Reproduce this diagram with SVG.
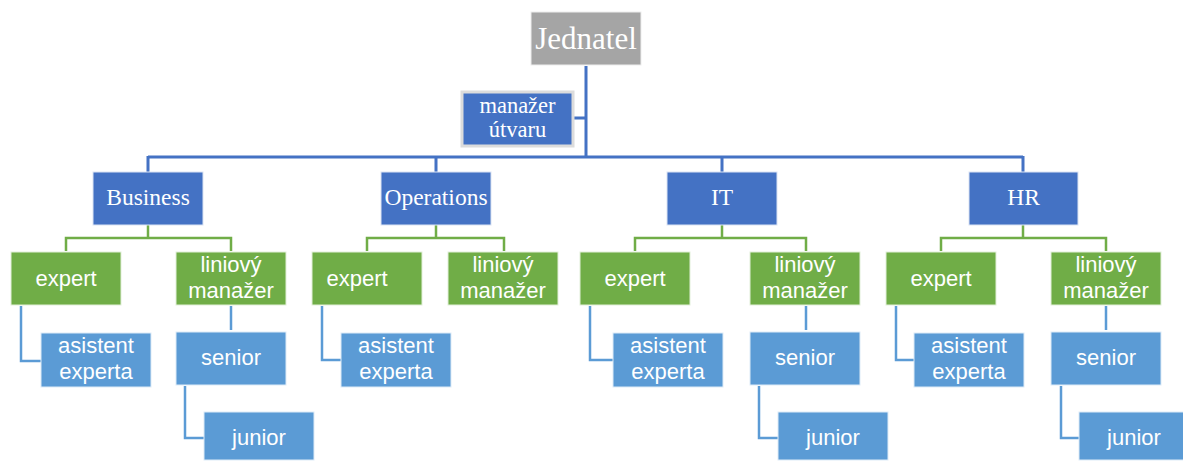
<svg xmlns="http://www.w3.org/2000/svg" width="1183" height="461" viewBox="0 0 1183 461">
<style>
.b{fill:#4472c4;stroke:#dbe4f3;stroke-width:1}
.g{fill:#70ad47;stroke:#e2efd9;stroke-width:1}
.l{fill:#5b9bd5;stroke:#deebf7;stroke-width:1}
.gr{fill:#a5a5a5;stroke:#ededed;stroke-width:1}
.ts{font-family:"Liberation Serif","Times New Roman",serif;fill:#fff;text-anchor:middle}
.tn{font-family:"Liberation Sans",Arial,sans-serif;font-size:22px;fill:#fff;text-anchor:middle}
.cb{stroke:#4472c4;stroke-width:3;fill:none}
.cg{stroke:#70ad47;stroke-width:2.5;fill:none}
.cl{stroke:#5b9bd5;stroke-width:2.5;fill:none}
</style>
<rect width="1183" height="461" fill="#fff"/>
<g id="connectors">
<path class="cb" d="M586 66V157M573 118H586M148 157H1023M148 156V172M436 156V172M722 156V172M1023 156V172"/>
<path class="cg" d="M148 225V238M66 251V238H231V251M436 225V238M367 251V238H504V251M722 225V238M635 251V238H806V251M1023 225V238M941 251V238H1106V251"/>
<path class="cl" d="M21 306V361H41M231 306V330M185 386V438H204M322 306V360H341M590 306V360H613M806 306V330M759 386V438H778M896 306V360H914M1106 306V330M1061 386V438H1079"/>
</g>
<g id="jednatel"><rect class="gr" x="531" y="12" width="110" height="53"/><text class="ts" x="586" y="49" font-size="31">Jednatel</text></g>
<g id="manazer-utvaru"><rect x="462" y="92" width="111" height="54" fill="#4472c4" stroke="#dcdcdc" stroke-width="3"/><text class="ts" x="517.5" y="113" font-size="22.5">manažer</text><text class="ts" x="517.5" y="137" font-size="22.5">útvaru</text></g>
<g id="business"><rect class="b" x="93" y="172" width="110" height="53"/><text class="ts" x="148" y="205" font-size="23.5">Business</text></g>
<g id="operations"><rect class="b" x="381" y="172" width="110" height="53"/><text class="ts" x="436" y="205" font-size="23.5">Operations</text></g>
<g id="it"><rect class="b" x="667" y="172" width="110" height="53"/><text class="ts" x="722" y="205" font-size="23.5">IT</text></g>
<g id="hr"><rect class="b" x="969" y="172" width="109" height="53"/><text class="ts" x="1023.5" y="205" font-size="23.5">HR</text></g>
<g id="business-expert"><rect class="g" x="11" y="252" width="110" height="53"/><text class="tn" x="66" y="286">expert</text></g>
<g id="business-liniovy"><rect class="g" x="176" y="252" width="110" height="53"/><text class="tn" x="231" y="272">liniový</text><text class="tn" x="231" y="298">manažer</text></g>
<g id="business-asistent"><rect class="l" x="41" y="333" width="110" height="54"/><text class="tn" x="96" y="353">asistent</text><text class="tn" x="96" y="379">experta</text></g>
<g id="business-senior"><rect class="l" x="176" y="332" width="110" height="53"/><text class="tn" x="231" y="365">senior</text></g>
<g id="business-junior"><rect class="l" x="204" y="412" width="110" height="48"/><text class="tn" x="259" y="445">junior</text></g>
<g id="operations-expert"><rect class="g" x="312" y="252" width="110" height="53"/><text class="tn" x="357" y="286">expert</text></g>
<g id="operations-liniovy"><rect class="g" x="448" y="252" width="110" height="53"/><text class="tn" x="503" y="272">liniový</text><text class="tn" x="503" y="298">manažer</text></g>
<g id="operations-asistent"><rect class="l" x="341" y="333" width="110" height="54"/><text class="tn" x="396" y="353">asistent</text><text class="tn" x="396" y="379">experta</text></g>
<g id="it-expert"><rect class="g" x="580" y="252" width="110" height="53"/><text class="tn" x="635" y="286">expert</text></g>
<g id="it-liniovy"><rect class="g" x="750" y="252" width="110" height="53"/><text class="tn" x="805" y="272">liniový</text><text class="tn" x="805" y="298">manažer</text></g>
<g id="it-asistent"><rect class="l" x="613" y="333" width="110" height="54"/><text class="tn" x="668" y="353">asistent</text><text class="tn" x="668" y="379">experta</text></g>
<g id="it-senior"><rect class="l" x="750" y="332" width="110" height="53"/><text class="tn" x="805" y="365">senior</text></g>
<g id="it-junior"><rect class="l" x="778" y="412" width="110" height="48"/><text class="tn" x="833" y="445">junior</text></g>
<g id="hr-expert"><rect class="g" x="886" y="252" width="110" height="53"/><text class="tn" x="941" y="286">expert</text></g>
<g id="hr-liniovy"><rect class="g" x="1051" y="252" width="110" height="53"/><text class="tn" x="1106" y="272">liniový</text><text class="tn" x="1106" y="298">manažer</text></g>
<g id="hr-asistent"><rect class="l" x="914" y="333" width="110" height="54"/><text class="tn" x="969" y="353">asistent</text><text class="tn" x="969" y="379">experta</text></g>
<g id="hr-senior"><rect class="l" x="1051" y="332" width="110" height="53"/><text class="tn" x="1106" y="365">senior</text></g>
<g id="hr-junior"><rect class="l" x="1079" y="412" width="110" height="48"/><text class="tn" x="1134" y="445">junior</text></g>
</svg>
